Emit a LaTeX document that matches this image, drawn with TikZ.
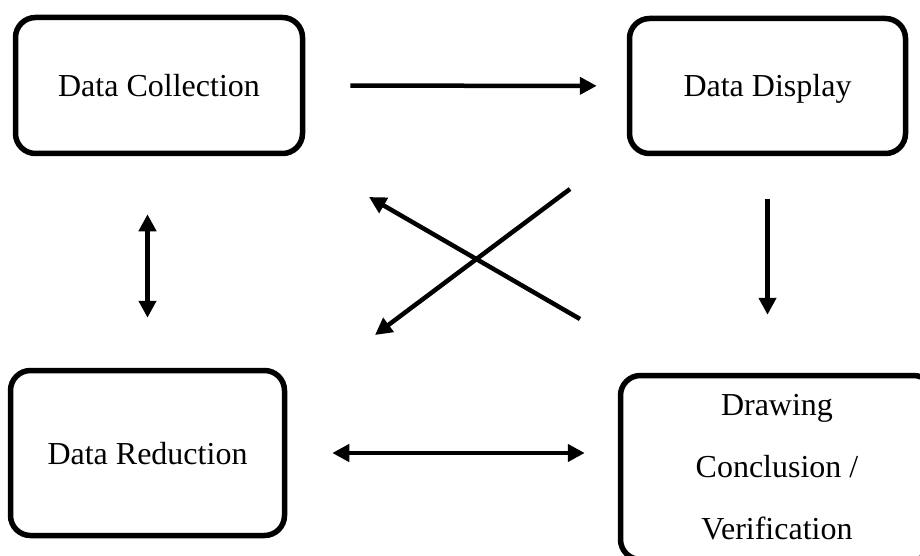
\documentclass[tikz,border=0pt]{standalone}
\usepackage{fontspec}
\setmainfont{Liberation Serif}
\usetikzlibrary{arrows.meta}

\tikzset{
  stagebox/.style={draw,line width=5.5pt,rounded corners=20pt,align=center,
    inner sep=0pt,font=\fontsize{32}{62}\selectfont},
  oneline/.style={text height=23pt,text depth=1pt},
  arr/.style={line width=4.5pt,-{Triangle[length=17pt,width=17pt]}},
  biarr/.style={line width=4.5pt,{Triangle[length=17pt,width=17pt]}-{Triangle[length=17pt,width=17pt]}}
}

\begin{document}
\begin{tikzpicture}[x=1pt,y=-1pt]
    \useasboundingbox (0,0) rectangle (920,556);
    \node[stagebox,oneline,minimum width=287pt,minimum height=136pt] (coll) at (159,85.5) {Data Collection};
    \node[stagebox,oneline,minimum width=276pt,minimum height=135pt] (disp) at (767.5,86) {Data Display};
    \node[stagebox,oneline,minimum width=274pt,minimum height=165pt] (red) at (147.5,453) {Data Reduction};
    \node[stagebox,minimum width=313pt,minimum height=184pt] (concl) at (777,467.5)
      {Drawing\\Conclusion /\\Verification};
    \draw[arr,shorten <=45pt,shorten >=30pt] (coll) -- (disp);
    \draw[biarr,shorten <=58pt,shorten >=50pt] (red.north |- coll.south) -- (red.north);
    \draw[arr,shorten <=43pt,shorten >=58pt] (disp.south) -- (disp.south |- concl.north);
    \draw[biarr,shorten <=45pt,shorten >=33pt] (red.east) -- (red.east -| concl.west);
    \coordinate (xa) at (570,189);
    \coordinate (xb) at (375,335);
    \coordinate (xc) at (580,319);
    \coordinate (xd) at (369,197);
    \draw[arr] (xa) -- (xb);
    \draw[arr] (xc) -- (xd);
  \end{tikzpicture}
\end{document}
